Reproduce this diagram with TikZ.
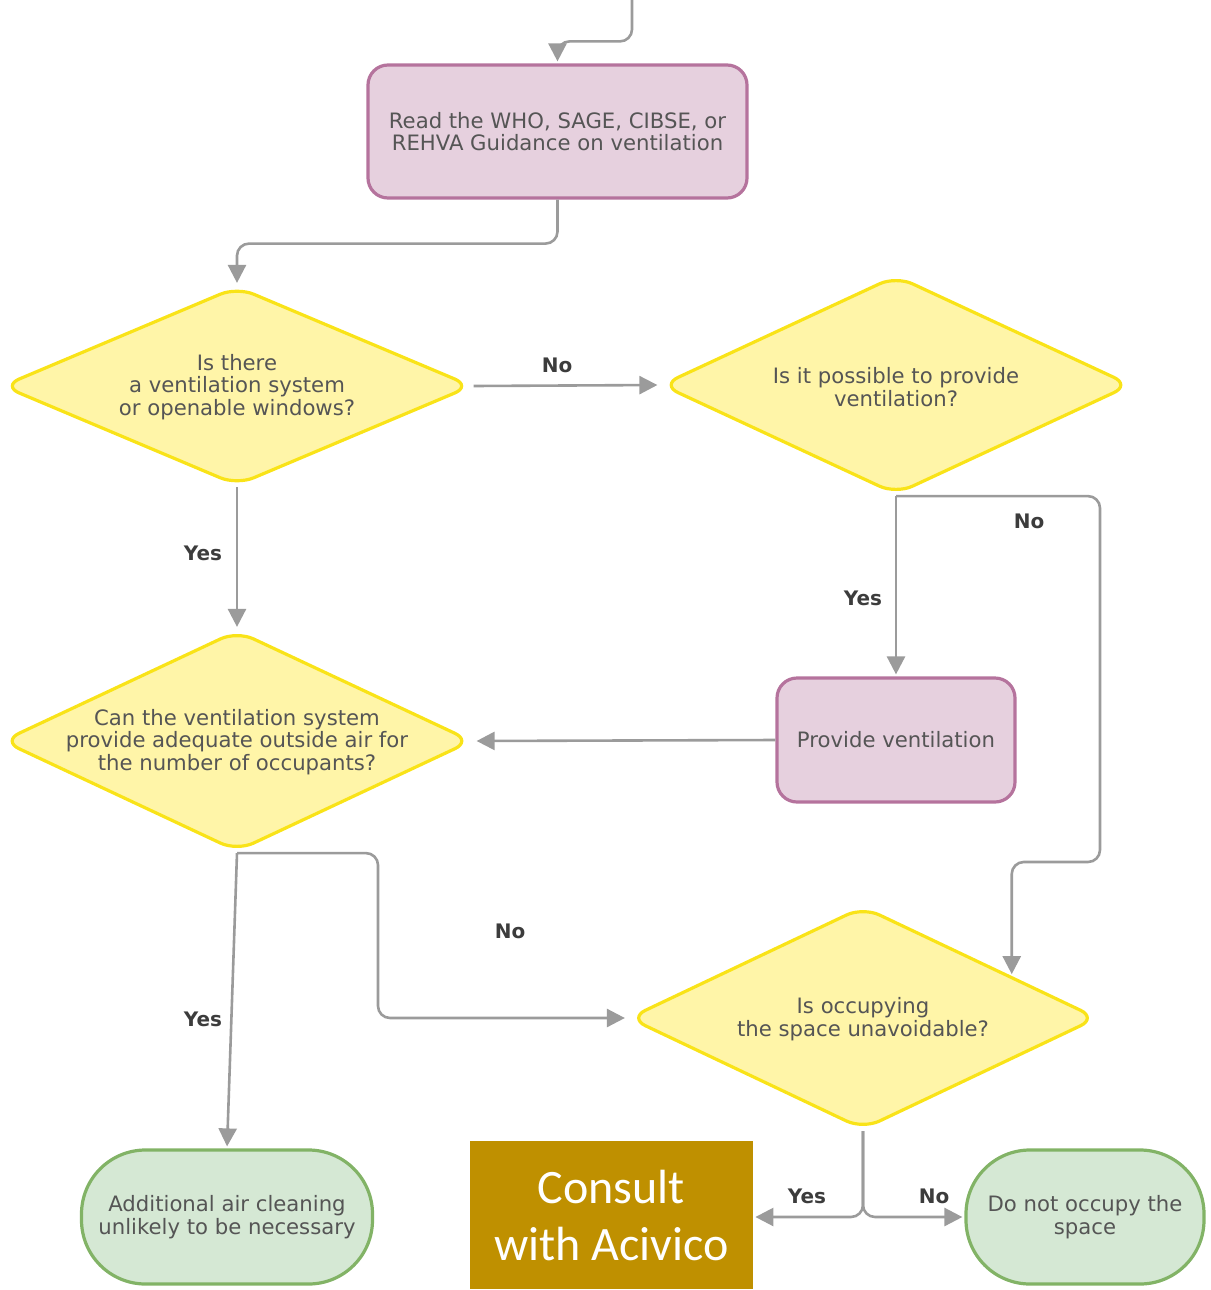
\documentclass[tikz,border=0pt]{standalone}
\usepackage{fontspec}
\setmainfont{DejaVu Sans}
\newfontfamily\calibrifont{Carlito}
\usetikzlibrary{shapes.geometric, arrows.meta, calc}

\definecolor{pinkfill}{HTML}{E6D0DE}
\definecolor{pinkline}{HTML}{B5739D}
\definecolor{yelfill}{HTML}{FFF5A8}
\definecolor{yelline}{HTML}{F9E318}
\definecolor{grnfill}{HTML}{D5E8D4}
\definecolor{grnline}{HTML}{82B366}
\definecolor{linegray}{HTML}{9B9B9B}
\definecolor{textgray}{HTML}{555555}
\definecolor{lblgray}{HTML}{3C3C3C}
\definecolor{goldbox}{HTML}{BF9000}

\begin{document}
\begin{tikzpicture}[x=0.5pt, y=-0.5pt,
  boxfont/.style={font=\fontsize{10.6}{11.2}\selectfont},
  process/.style={rectangle, rounded corners=10pt, draw=pinkline, fill=pinkfill, line width=1.6pt, text=textgray, align=center, boxfont},
  decision/.style={diamond, rounded corners=9pt, draw=yelline, fill=yelfill, line width=1.6pt, inner sep=0pt, minimum width=235pt},
  qtext/.style={text=textgray, align=center, boxfont},
  terminal/.style={rectangle, rounded corners=32pt, draw=grnline, fill=grnfill, line width=1.6pt, text=textgray, align=center, boxfont},
  conn/.style={draw=linegray, line width=1.3pt, rounded corners=6pt, -{Triangle[length=9pt,width=9pt]}, shorten >=1pt},
  lbl/.style={text=lblgray, font=\bfseries\fontsize{10}{12}\selectfont}
]
\useasboundingbox (0,0) rectangle (1210,1290);

% Boxes and questions
\coordinate (top) at (632,0);
\node[process, minimum width=189.5pt, minimum height=66.5pt] (read) at (557.5,131.5) {Read the WHO, SAGE, CIBSE, or\\REHVA Guidance on ventilation};

\node[decision, minimum height=99.5pt] (d1) at (237,386) {};
\node[qtext] (t1) at (237,387) {Is there\\a ventilation system\\or openable windows?};

\node[decision, minimum height=109.5pt] (d2) at (896,385) {};
\node[qtext] (t2) at (896,387) {Is it possible to provide\\ventilation?};

\node[decision, minimum height=110.5pt] (d3) at (237,741) {};
\node[qtext] (t3) at (237,742) {Can the ventilation system\\provide adequate outside air for\\the number of occupants?};

\node[process, minimum width=119pt, minimum height=62pt] (prov) at (896,740) {Provide ventilation};

\node[decision, minimum width=234.5pt, minimum height=111.5pt] (d4) at (863,1018) {};
\node[qtext] (t4) at (863,1019) {Is occupying\\the space unavoidable?};

% End points
\node[terminal, minimum width=145.5pt, minimum height=67pt] (add) at (227,1217) {Additional air cleaning\\unlikely to be necessary};
\node[terminal, minimum width=119pt, minimum height=67pt] (dno) at (1085,1217) {Do not occupy the\\space};
\node[fill=goldbox, text=white, minimum width=141.5pt, minimum height=74pt, inner sep=0pt, align=center, font=\calibrifont\fontsize{24}{28.5}\selectfont] (consult) at (611.5,1215) {Consult\\with Acivico};

% Connectors
\coordinate (r1) at (1100,862);
\coordinate (r2) at (378,1018);
\coordinate (d4ne) at ($(d4.north)!0.63!(d4.east)$);
\draw[conn] (top) |- ([yshift=11pt]read.north) -- (read.north);
\draw[conn] (read.south) -- ++(0,44) -| (d1.north);
\draw[conn] (d1.east) -- (d2.west);
\draw[conn] (d1.south) -- (d3.north);
\draw[conn] (d2.south) -- (prov.north);
\draw[conn, shorten >=1.5pt] (prov.west) -- (d3.east);
\draw[conn] (d2.south) -| (r1) -| (d4ne);
\draw[conn] (d3.south) -| (r2) -- (d4.west);
\draw[conn] (d3.south) -- (add.north);
\draw[conn] (d4.south) |- (consult.east |- dno.west);
\draw[conn] (d4.south) |- (dno.west);

% Branch labels
\node[lbl] (lno1) at (557,365) {No};
\node[lbl] (lyes1) at (203,553) {Yes};
\node[lbl] (lyes2) at (863,598) {Yes};
\node[lbl] (lno2) at (1029,521) {No};
\node[lbl] (lno3) at (510,931) {No};
\node[lbl] (lyes3) at (203,1019) {Yes};
\node[lbl] (lyes4) at (807,1196) {Yes};
\node[lbl] (lno4) at (934,1196) {No};
\end{tikzpicture}
\end{document}
